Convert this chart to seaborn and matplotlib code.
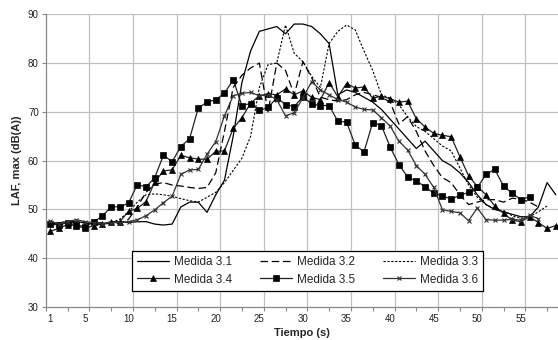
import numpy as np
import pandas as pd
import matplotlib
matplotlib.use("Agg")
import matplotlib.pyplot as plt
import seaborn as sns

nan = np.nan
tiempo = list(range(1, 60))

medida_31 = [47.0, 47.2, 47.5, 47.5, 47.3, 47.0, 47.0, 47.2, 47.5, 47.3,
             47.5, 47.5, 47.0, 46.8, 47.0, 50.5, 51.5, 51.5, 49.4, 53.0,
             56.0, 65.0, 76.0, 82.5, 86.5, 87.0, 87.5, 86.0, 88.0, 88.0,
             87.5, 86.0, 84.0, 73.5, 74.5, 74.0, 73.0, 72.0, 70.5, 68.5,
             66.5, 64.5, 62.5, 64.0, 62.0, 60.0, 59.0, 57.5, 55.5, 53.0,
             51.0, 50.0, 49.5, 49.0, 48.5, 48.5, 50.5, 55.5, 53.0]
medida_32 = [47.0, 47.0, 47.5, 47.3, 47.0, 47.2, 47.3, 47.0, 47.2, 48.0,
             50.5, 53.5, 55.2, 55.5, 55.0, 54.8, 54.5, 54.3, 54.5, 57.5,
             66.0, 75.0, 77.5, 79.0, 80.0, 70.0, 80.0, 78.5, 73.5, 80.3,
             77.0, 73.0, 72.5, 72.2, 72.5, 73.5, 74.0, 73.5, 73.0, 72.0,
             67.5, 69.0, 66.0, 62.0, 59.0, 56.5, 55.5, 53.0, 51.0, 51.5,
             52.0, 52.0, 51.5, 52.3, 52.1, 51.5, 50.5, nan, nan]
medida_33 = [47.0, 47.3, 47.5, 47.5, 47.2, 47.0, 47.0, 47.3, 48.0, 49.5,
             51.5, 53.0, 53.2, 53.0, 52.7, 52.2, 51.8, 51.5, 52.5, 53.5,
             55.5, 58.0, 60.5, 65.0, 75.0, 79.7, 80.0, 87.8, 82.0, 80.3,
             77.3, 75.0, 84.0, 86.5, 87.8, 86.8, 82.5, 78.5, 73.5, 72.8,
             71.5, 69.0, 67.0, 66.0, 64.5, 63.0, 62.0, 58.5, 55.0, 52.5,
             51.0, 50.0, 49.7, 48.7, 48.2, 48.5, 49.5, 50.7, nan]
medida_34 = [45.5, 46.1, 46.9, 46.7, 46.1, 46.7, 47.0, 47.5, 47.5, 49.6,
             50.2, 51.6, 55.6, 57.9, 58.1, 61.1, 60.6, 60.3, 60.3, 61.9,
             62.0, 66.6, 68.8, 71.8, 73.3, 73.7, 73.5, 74.7, 73.5, 74.3,
             73.0, 72.5, 76.0, 73.1, 75.8, 74.9, 75.1, 72.8, 73.2, 72.7,
             72.0, 72.2, 68.6, 66.9, 65.6, 65.2, 64.9, 60.8, 56.9, 54.7,
             53.0, 50.7, 49.2, 47.8, 47.5, 48.5, 47.3, 46.1, 46.7]
medida_35 = [47.0, 46.8, 47.3, 46.8, 46.5, 47.5, 48.6, 50.6, 50.5, 51.3,
             55.1, 54.6, 56.5, 61.1, 59.8, 62.9, 64.5, 70.8, 72.0, 72.5,
             73.8, 76.6, 71.3, 71.7, 70.3, 70.9, 72.9, 71.5, 71.1, 73.1,
             71.6, 71.3, 71.3, 68.1, 67.9, 63.2, 61.8, 67.8, 67.2, 62.8,
             59.2, 56.7, 55.8, 54.7, 53.3, 52.8, 52.1, 52.9, 53.5, 54.5,
             57.2, 58.2, 54.8, 53.3, 52.0, 52.6, nan, nan, nan]
medida_36 = [47.6, 47.0, 47.5, 47.9, 47.5, 47.3, 47.1, 47.3, 47.3, 47.5,
             47.9, 48.7, 49.9, 51.4, 52.7, 57.2, 58.1, 58.2, 61.3, 63.9,
             69.2, 73.3, 73.8, 74.0, 73.3, 73.5, 72.5, 69.2, 69.8, 72.9,
             76.2, 74.5, 73.5, 72.5, 72.0, 71.0, 70.5, 70.4, 68.8, 67.1,
             64.0, 62.2, 59.0, 57.2, 54.5, 49.9, 49.6, 49.3, 47.7, 50.3,
             47.9, 47.8, 47.8, 48.0, 47.8, 48.8, 48.1, nan, nan]

x_labels = [1, 5, 10, 15, 20, 25, 30, 35, 40, 45, 50, 55]

series = [
    ("Medida 3.1", medida_31, dict(color="black", linestyle="-", lw=0.9)),
    ("Medida 3.2", medida_32, dict(color="black", linestyle=(0, (6, 3)), lw=0.9)),
    ("Medida 3.3", medida_33, dict(color="black", linestyle=(0, (2, 1.5)), lw=0.8)),
    ("Medida 3.4", medida_34, dict(color="#222222", linestyle="-", lw=0.9,
                                   marker="^", markersize=4.5, markeredgewidth=0.5,
                                   markerfacecolor="black", markeredgecolor="black")),
    ("Medida 3.5", medida_35, dict(color="#222222", linestyle="-", lw=0.9,
                                   marker="s", markersize=4.3, markeredgewidth=0.5,
                                   markerfacecolor="black", markeredgecolor="black")),
    ("Medida 3.6", medida_36, dict(color="#333333", linestyle="-", lw=0.9,
                                   marker="x", markersize=3.5, markeredgewidth=0.8,
                                   markeredgecolor="#333333")),
]

sns.set_theme(style="white")
plt.rcParams["font.family"] = ["Liberation Sans", "DejaVu Sans"]

fig = plt.figure(figsize=(5.58, 3.40), dpi=100)
ax = fig.add_axes([45.7 / 558, (340 - 307) / 340, 1 - 45.7 / 558, (307 - 14.3) / 340])

for name, vals, kw in series:
    df = pd.DataFrame({"t": tiempo, "v": vals}).dropna()
    sns.lineplot(data=df, x="t", y="v", ax=ax, label=name, **kw)

ax.set_xlim(0.5, 0.5 + (558 - 45.7) / 8.72)
ax.set_ylim(30, 90)

# grid
grid_c = "#c0c0c0"
for gx in np.arange(5.5, 60, 5):
    ax.axvline(gx, color=grid_c, lw=0.9, zorder=0)
for gy in range(40, 91, 10):
    ax.axhline(gy, color=grid_c, lw=0.9, zorder=0)

ax.set_yticks(range(30, 91, 10))
ax.set_xticks(x_labels)
ax.set_xticklabels([str(v) for v in x_labels])
ax.set_xticks(np.arange(0.5, 60, 2.5), minor=True)
ax.tick_params(axis="x", which="major", length=0, pad=5, labelsize=7, colors="#222222")
ax.tick_params(axis="x", which="minor", length=3, width=0.8, color="#888888", direction="out")
ax.tick_params(axis="y", which="major", length=3, width=0.8, color="#888888",
               direction="out", labelsize=7, labelcolor="#222222", pad=2)
ax.xaxis.set_ticks_position("bottom")
ax.yaxis.set_ticks_position("left")

for s in ["top", "right"]:
    ax.spines[s].set_visible(False)
for s in ["left", "bottom"]:
    ax.spines[s].set_color("#888888")
    ax.spines[s].set_linewidth(0.9)

ax.set_xlabel("Tiempo (s)", fontsize=8, fontweight="bold", labelpad=3)
ax.set_ylabel("LAF, max (dB(A))", fontsize=8, fontweight="bold", labelpad=4)

handles, labels = ax.get_legend_handles_labels()
order = [0, 3, 1, 4, 2, 5]  # row-wise reading in a 3-column legend
leg = ax.legend([handles[i] for i in order], [labels[i] for i in order],
                ncol=3, loc="upper left", bbox_to_anchor=(132 / 558, (340 - 251) / 340),
                bbox_transform=fig.transFigure, borderaxespad=0, fontsize=8.5,
                frameon=True, fancybox=False, edgecolor="black", framealpha=1,
                handlelength=2.7, handletextpad=0.4, columnspacing=2.4,
                borderpad=0.45, labelspacing=0.45)
leg.get_frame().set_linewidth(0.9)

fig.savefig("out.png", dpi=100)
